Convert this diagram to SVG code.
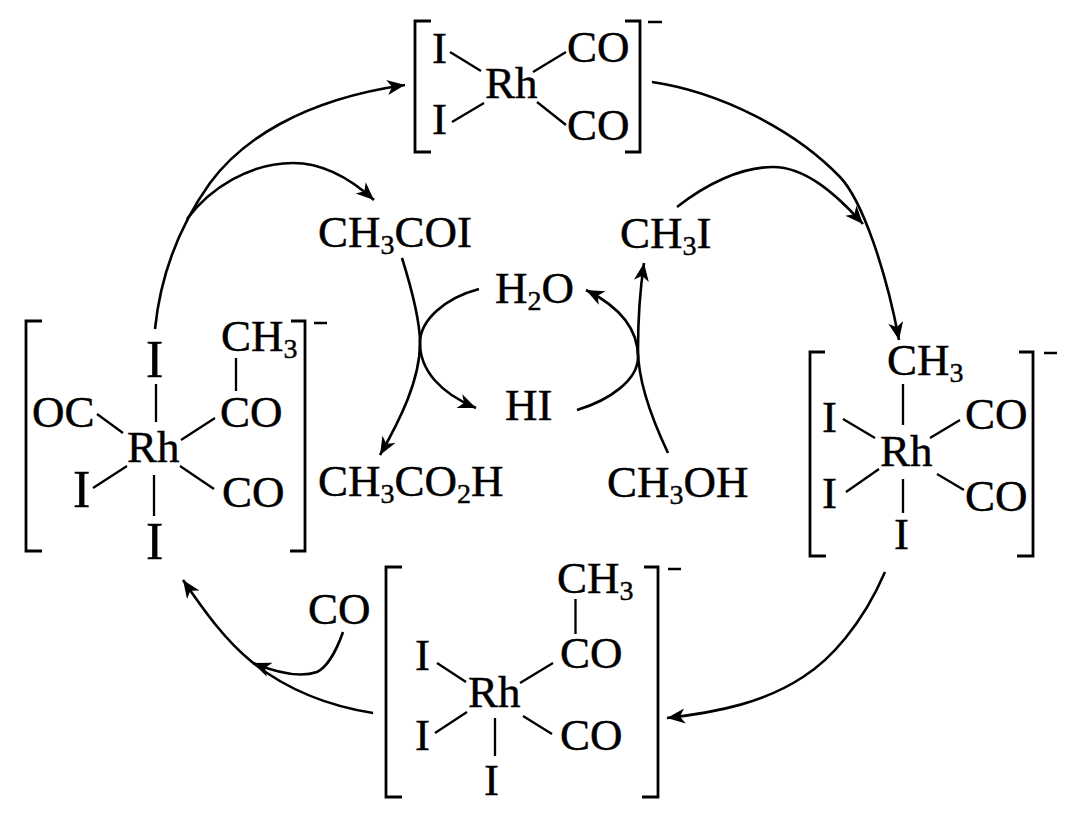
<svg xmlns="http://www.w3.org/2000/svg" width="1080" height="825" viewBox="0 0 1080 825">
<style>
text{font-family:"Liberation Serif","Times New Roman",serif;font-size:45px;fill:#000;stroke:#000;stroke-width:.45}
.s{font-size:28px}
.t{font-size:52px}
.b{stroke:#000;stroke-width:2.3;fill:none}
.k{stroke:#000;stroke-width:2.8;fill:none}
.a{stroke:#000;stroke-width:2.6;fill:none;marker-end:url(#h)}
</style>
<defs>
<marker id="h" markerUnits="userSpaceOnUse" markerWidth="24" markerHeight="20" refX="18" refY="9" orient="auto" overflow="visible">
<path d="M18,9 L0,1.5 L5,9 L0,16.5 Z" fill="#000"/>
</marker>
</defs>
<rect width="1080" height="825" fill="#fff"/>
<g id="connectors">
<path class="a" d="M155,329 C160,280 175,232 210,183 C240,142 300,100 405,85"/>
<path class="a" d="M187,219 C210,188 250,163 293,163 C325,163 352,180 374,200"/>
<path class="a" d="M652,82 C720,92 795,130 840,177 C862,200 886,270 899,340"/>
<path class="a" d="M677,207 C705,185 740,167 773,167 C805,167 835,193 863,224"/>
<path class="a" d="M885,572 C862,625 830,660 803,677 C765,702 720,712 667,718"/>
<path class="a" d="M373,713 C330,706 290,692 252,662 C225,640 205,612 183,580"/>
<path class="a" d="M343,632 C335,655 325,668 317,672 C300,678 275,672 253,663"/>
<path class="a" d="M402,258 C412,290 420,320 420,343 C420,380 400,420 380,455"/>
<path class="a" d="M479,289 C445,298 420,320 420,343 C420,370 440,393 476,408"/>
<path class="a" d="M577,410 C610,400 638,380 638,357 C638,330 620,307 586,290"/>
<path class="a" d="M668,453 C650,415 638,380 638,350 C638,320 640,290 644,263"/>
</g>
<g id="complex-top">
<path class="k" d="M431,21 H415 V152 H431 M625,21 H640 V152 H625"/>
<path class="b" d="M648,22 H662 M450,52 L481,71 M452,122 L484,103 M533,72 L566,52 M537,102 L566,125"/>
<text x="432" y="63">I</text><text x="432" y="134">I</text>
<text x="485" y="98">Rh</text>
<text x="567" y="62">CO</text><text x="567" y="140">CO</text>
</g>
<g id="complex-left">
<path class="k" d="M42,321 H26 V551 H42 M291,321 H305 V551 H290"/>
<path class="b" d="M314,323 H327 M236,358 V391 M156,384 V422 M97,414 L123,433 M181,440 L215,418 M127,466 L93,488 M180,466 L214,489 M154,475 V516"/>
<text class="t" x="146" y="377">I</text>
<text x="221" y="351">CH<tspan class="s" dy="7">3</tspan></text>
<text x="220" y="427">CO</text>
<text x="32" y="427">OC</text>
<text x="127" y="462">Rh</text>
<text class="t" x="73" y="507">I</text>
<text x="222" y="507">CO</text>
<text class="t" x="146" y="559">I</text>
</g>
<g id="complex-bottom">
<path class="k" d="M402,567 H386 V797 H402 M644,567 H658 V797 H642"/>
<path class="b" d="M668,569 H681 M575.5,599 V634 M437,663 L466,682 M553,663 L520,683 M467,712 L435,733 M523,716 L552,734 M495,718 V756"/>
<text x="557" y="593">CH<tspan class="s" dy="7">3</tspan></text>
<text x="560" y="668">CO</text>
<text x="560" y="750">CO</text>
<text x="468" y="707">Rh</text>
<text x="415" y="670">I</text><text x="415" y="750">I</text>
<text x="484" y="795">I</text>
</g>
<g id="complex-right">
<path class="k" d="M825,352 H810 V556 H826 M1019,352 H1033 V556 H1017"/>
<path class="b" d="M1044,353 H1057 M903,384 V425 M843,419 L875,438 M930,438 L960,420 M879,469 L846,492 M937,474 L964,490 M903,479 V513"/>
<text x="887" y="375">CH<tspan class="s" dy="7">3</tspan></text>
<text x="822" y="432">I</text><text x="822" y="508">I</text>
<text x="965" y="429">CO</text><text x="965" y="511">CO</text>
<text x="880" y="466">Rh</text>
<text x="894" y="549">I</text>
</g>
<g id="free-co"><text x="308" y="624">CO</text></g>
<g id="ch3coi"><text x="318" y="247">CH<tspan class="s" dy="7">3</tspan><tspan dy="-7">COI</tspan></text></g>
<g id="ch3i"><text x="620" y="248">CH<tspan class="s" dy="7">3</tspan><tspan dy="-7">I</tspan></text></g>
<g id="h2o"><text x="495" y="303">H<tspan class="s" dy="7">2</tspan><tspan dy="-7">O</tspan></text></g>
<g id="hi"><text x="505" y="420">HI</text></g>
<g id="ch3co2h"><text x="318" y="496">CH<tspan class="s" dy="7">3</tspan><tspan dy="-7">CO</tspan><tspan class="s" dy="7">2</tspan><tspan dy="-7">H</tspan></text></g>
<g id="ch3oh"><text x="607" y="497">CH<tspan class="s" dy="7">3</tspan><tspan dy="-7">OH</tspan></text></g>
</svg>
